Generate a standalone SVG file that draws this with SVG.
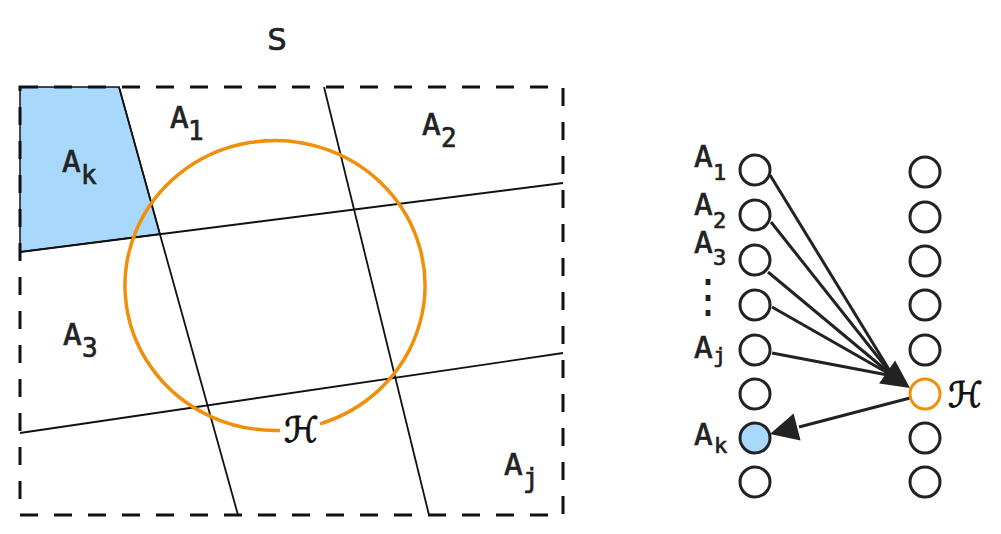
<svg xmlns="http://www.w3.org/2000/svg" width="1001" height="534" viewBox="0 0 1001 534">
<style>
.lbl{font-family:"DejaVu Sans Mono","Liberation Mono",monospace;fill:#222;stroke:#222;stroke-width:0.7;}
.a{font-size:31px;}
.subL{font-size:26px;}
.subR{font-size:22px;}
.grid{stroke:#111;stroke-width:1.8;fill:none;}
.node{fill:#fff;stroke:#222;stroke-width:3;}
.conn{stroke:#222;stroke-width:3;fill:none;}
.head{fill:#222;stroke:none;}
.hyp{fill:none;stroke:#F0900A;stroke-width:3.5;}
.script{font-family:"DejaVu Sans","DejaVu Serif",sans-serif;font-size:35px;fill:#111;stroke:#111;stroke-width:1;}
</style>
<rect width="1001" height="534" fill="#fff"/>
<g id="left-diagram">
  <polygon id="region-Ak" points="20,87 119,87 160,234 20,252" fill="#A8D8FC" stroke="#111" stroke-width="1.5"/>
  <g id="partition-lines">
    <line class="grid" x1="119" y1="87" x2="238" y2="515"/>
    <line class="grid" x1="324" y1="87" x2="429" y2="515"/>
    <line class="grid" x1="20" y1="252" x2="563" y2="183"/>
    <line class="grid" x1="20" y1="433" x2="563" y2="353"/>
  </g>
  <rect id="S-box" x="20" y="87" width="543" height="428" fill="none" stroke="#111" stroke-width="3" stroke-dasharray="18 16"/>
  <path id="H-region" class="hyp" d="M 280 430.4 A 150 145 0 1 1 320 423.8"/>
  <text x="277" y="50" text-anchor="middle" font-family="DejaVu Sans,sans-serif" font-size="30" fill="#222" stroke="#222" stroke-width="0.7">S</text>
  <text class="lbl" x="170" y="128"><tspan class="a">A</tspan><tspan class="subL" x="188" y="140">1</tspan></text>
  <text class="lbl" x="422" y="135"><tspan class="a">A</tspan><tspan class="subL" x="441" y="147">2</tspan></text>
  <text class="lbl" x="62" y="172"><tspan class="a">A</tspan><tspan class="subL" x="81" y="184">k</tspan></text>
  <text class="lbl" x="63" y="345"><tspan class="a">A</tspan><tspan class="subL" x="82" y="357">3</tspan></text>
  <text class="lbl" x="504" y="475"><tspan class="a">A</tspan><tspan class="subL" x="523" y="487">j</tspan></text>
  <text class="script" x="284" y="442">ℋ</text>
</g>
<g id="connectors">
  <line class="conn" x1="770" y1="175" x2="893" y2="376"/>
  <line class="conn" x1="771" y1="222" x2="893" y2="376"/>
  <line class="conn" x1="768" y1="272" x2="893" y2="376"/>
  <line class="conn" x1="772" y1="307" x2="893" y2="376"/>
  <line class="conn" x1="772" y1="353" x2="893" y2="376"/>
  <polygon class="head" points="910,388 879.1,383.4 895.1,360.4"/>
  <line class="conn" x1="910" y1="398" x2="799" y2="427"/>
  <polygon class="head" points="770,434 800.6,440.6 793.6,413.4"/>
</g>
<g id="left-column">
  <g id="L1"><circle class="node" cx="755" cy="170" r="15"/></g>
  <g id="L2"><circle class="node" cx="755" cy="215" r="15"/></g>
  <g id="L3"><circle class="node" cx="755" cy="260" r="15"/></g>
  <g id="L4"><circle class="node" cx="755" cy="305" r="15"/></g>
  <g id="L5"><circle class="node" cx="755" cy="350" r="15"/></g>
  <g id="L6"><circle class="node" cx="755" cy="394" r="15"/></g>
  <g id="L7"><circle class="node" cx="755" cy="438" r="15" style="fill:#A8D8FC"/></g>
  <g id="L8"><circle class="node" cx="755" cy="482" r="15"/></g>
</g>
<g id="right-column">
  <g id="R1"><circle class="node" cx="925" cy="172" r="15"/></g>
  <g id="R2"><circle class="node" cx="925" cy="217" r="15"/></g>
  <g id="R3"><circle class="node" cx="925" cy="261" r="15"/></g>
  <g id="R4"><circle class="node" cx="925" cy="305" r="15"/></g>
  <g id="R5"><circle class="node" cx="925" cy="350" r="15"/></g>
  <g id="R6"><circle class="node" cx="925" cy="394" r="15" style="stroke:#F0900A"/></g>
  <g id="R7"><circle class="node" cx="925" cy="438" r="15"/></g>
  <g id="R8"><circle class="node" cx="925" cy="482" r="15"/></g>
</g>
<g id="right-labels">
  <text class="lbl" x="694" y="167"><tspan class="a">A</tspan><tspan class="subR" x="713" y="180">1</tspan></text>
  <text class="lbl" x="694" y="215"><tspan class="a">A</tspan><tspan class="subR" x="713" y="228">2</tspan></text>
  <text class="lbl" x="694" y="253"><tspan class="a">A</tspan><tspan class="subR" x="713" y="265">3</tspan></text>
  <text x="708" y="312" text-anchor="middle" font-family="DejaVu Sans Mono,monospace" font-size="46" fill="#222">⋮</text>
  <text class="lbl" x="694" y="358"><tspan class="a">A</tspan><tspan class="subR" x="713" y="363">j</tspan></text>
  <text class="lbl" x="694" y="445"><tspan class="a">A</tspan><tspan class="subR" x="714" y="453">k</tspan></text>
  <text class="script" x="948" y="407">ℋ</text>
</g>
</svg>
